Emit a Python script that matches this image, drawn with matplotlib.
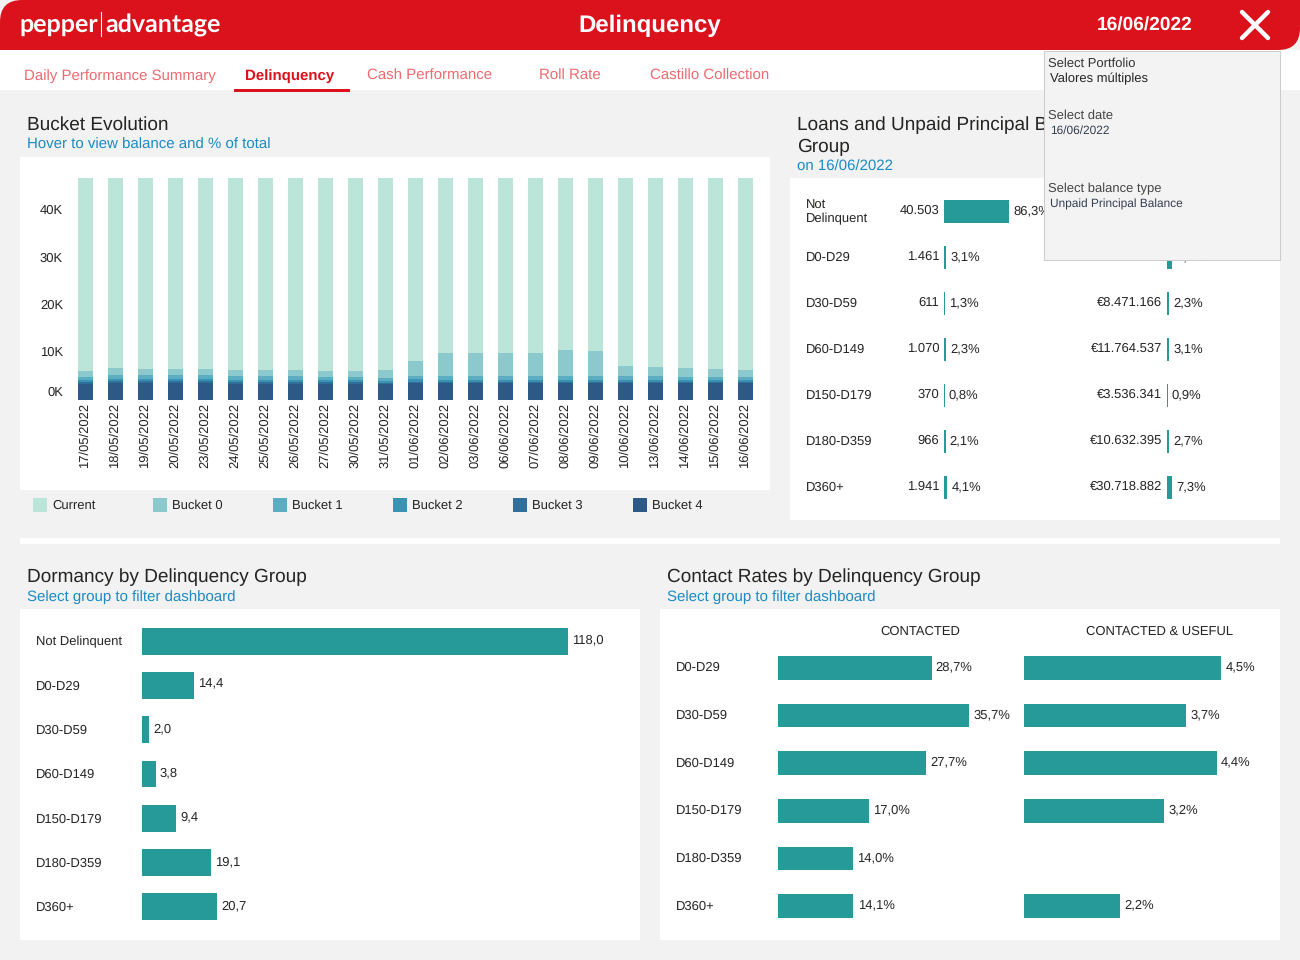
import matplotlib
matplotlib.use('Agg')
import matplotlib.pyplot as plt
from matplotlib.patches import PathPatch, Rectangle
from matplotlib.path import Path

plt.rcParams['font.family'] = ['Liberation Sans', 'DejaVu Sans']
plt.rcParams['text.hinting'] = 'none'

W, H = 1300, 960

dates = ['17/05/2022', '18/05/2022', '19/05/2022', '20/05/2022', '23/05/2022', '24/05/2022',
         '25/05/2022', '26/05/2022', '27/05/2022', '30/05/2022', '31/05/2022', '01/06/2022',
         '02/06/2022', '03/06/2022', '06/06/2022', '07/06/2022', '08/06/2022', '09/06/2022',
         '10/06/2022', '13/06/2022', '14/06/2022', '15/06/2022', '16/06/2022']
bucket4 = [3.4, 3.6, 3.6, 3.6, 3.6, 3.4, 3.4, 3.4, 3.4, 3.4, 3.4, 3.6,
           3.6, 3.6, 3.6, 3.6, 3.6, 3.6, 3.6, 3.6, 3.6, 3.6, 3.6]
bucket3 = [0.4, 0.4, 0.4, 0.4, 0.4, 0.4, 0.4, 0.4, 0.4, 0.4, 0.2, 0.2,
           0.2, 0.2, 0.2, 0.2, 0.2, 0.2, 0.2, 0.2, 0.2, 0.2, 0.2]
bucket2 = [0.4, 0.4, 0.4, 0.4, 0.4, 0.4, 0.4, 0.4, 0.4, 0.4, 0.5, 0.6,
           0.4, 0.4, 0.4, 0.4, 0.4, 0.4, 0.4, 0.4, 0.4, 0.4, 0.4]
bucket1 = [0.6, 0.8, 0.8, 0.8, 0.8, 0.8, 0.8, 0.8, 0.6, 0.6, 0.6, 0.6,
           0.8, 0.8, 0.8, 0.8, 0.8, 0.8, 0.8, 0.8, 0.6, 0.6, 0.6]
bucket0 = [1.3, 1.5, 1.3, 1.3, 1.3, 1.3, 1.3, 1.3, 1.3, 1.3, 1.6, 3.2,
           4.9, 4.9, 4.9, 4.9, 5.6, 5.3, 2.1, 1.9, 1.9, 1.7, 1.5]
current = [40.8, 40.2, 40.4, 40.4, 40.4, 40.6, 40.6, 40.6, 40.8, 40.8, 40.6, 38.7,
           37.0, 37.0, 37.0, 37.0, 36.3, 36.6, 39.8, 40.0, 40.2, 40.4, 40.6]
bucket_names = ['Current', 'Bucket 0', 'Bucket 1', 'Bucket 2', 'Bucket 3', 'Bucket 4']
bucket_colors = ['#bce5da', '#8cc9cd', '#5cadc1', '#3a93b2', '#2f6f9a', '#2c5985']
y_ticks = [10, 20, 30, 40]

loan_groups = ['Not\nDelinquent', 'D0-D29', 'D30-D59', 'D60-D149', 'D150-D179', 'D180-D359', 'D360+']
loan_counts = [40503, 1461, 611, 1070, 370, 966, 1941]
loan_pct = [86.3, 3.1, 1.3, 2.3, 0.8, 2.1, 4.1]
unpaid_values = ['€26.763.021', '€8.471.166', '€11.764.537', '€3.536.341', '€10.632.395', '€30.718.882']
unpaid_pct = [7.2, 2.3, 3.1, 0.9, 2.7, 7.3]

dormancy_groups = ['Not Delinquent', 'D0-D29', 'D30-D59', 'D60-D149', 'D150-D179', 'D180-D359', 'D360+']
dormancy = [118.0, 14.4, 2.0, 3.8, 9.4, 19.1, 20.7]

contact_groups = ['D0-D29', 'D30-D59', 'D60-D149', 'D150-D179', 'D180-D359', 'D360+']
contacted = [28.7, 35.7, 27.7, 17.0, 14.0, 14.1]
useful = [4.5, 3.7, 4.4, 3.2, None, 2.2]

tabs = ['Daily Performance Summary', 'Delinquency', 'Cash Performance', 'Roll Rate', 'Castillo Collection']

TEAL = '#259a98'
RED = '#db111b'
BLUE = '#1a8bc3'
DARK = '#252423'
FS = 9.4
TITLE_FS = 13.7
SUB_FS = 10.8


def es(v, fmt='{:.1f}'):
    return fmt.format(v).replace('.', ',')


def px_axes(x0, y0, x1, y1, zorder=1):
    # axes placed with pixel box, y measured from the top
    ax = fig.add_axes([x0 / W, 1 - y1 / H, (x1 - x0) / W, (y1 - y0) / H], zorder=zorder)
    ax.patch.set_alpha(0)
    return ax


def hbar_panel(x0, x1, y0, y1, values, scale, height):
    # horizontal bars, scale in pixels per unit, y0/y1 are the row band limits
    ax = px_axes(x0, y0, x1, y1)
    rows = [i for i, v in enumerate(values) if v is not None]
    ax.barh(rows, [values[i] for i in rows], height=height, color=TEAL)
    ax.set_xlim(0, (x1 - x0) / scale)
    ax.set_ylim(len(values) - 0.5, -0.5)
    ax.axis('off')
    return ax


def note(ax, s, xy, dx, dy=0, ha='left'):
    ax.annotate(s, xy, xytext=(dx, dy), textcoords='offset points', ha=ha, va='center',
                fontsize=FS, color=DARK, annotation_clip=False)


fig = plt.figure(figsize=(W / 100, H / 100), dpi=100, facecolor='#f2f2f2')

# page background, panels and titles in pixel coordinates
bg = fig.add_axes([0, 0, 1, 1], zorder=0)
bg.set_xlim(0, W)
bg.set_ylim(H, 0)
bg.axis('off')

for x, y, w, h in [(0, 50, W, 40), (20, 157, 750, 333), (790, 178, 490, 342),
                   (20, 538, 1260, 6), (20, 609, 620, 331), (660, 609, 620, 331)]:
    bg.add_patch(Rectangle((x, y), w, h, fc='white', ec='none'))

r = 22
header = Path([(0, 50), (0, r), (0, 0), (r, 0), (W, 0), (W, 50 - r), (W, 50), (W - r, 50), (0, 50)],
              [Path.MOVETO, Path.LINETO, Path.CURVE3, Path.CURVE3, Path.LINETO, Path.LINETO,
               Path.CURVE3, Path.CURVE3, Path.CLOSEPOLY])
bg.add_patch(PathPatch(header, fc=RED, ec='none'))

bg.text(19, 25, 'pepper', color='white', fontsize=18, family='Lato', weight='bold', va='center')
bg.plot([100.5, 100.5], [12, 36], color='white', lw=0.8)
bg.text(105, 25, 'advantage', color='white', fontsize=18, family='Lato', weight='bold', va='center')
bg.text(650, 26, 'Delinquency', color='white', fontsize=17.3, weight='bold', ha='center', va='center')
bg.text(1145, 26, '16/06/2022', color='white', fontsize=13.8, weight='bold', ha='center', va='center')
bg.plot([1242, 1268], [12, 38], color='white', lw=3.2, solid_capstyle='round')
bg.plot([1242, 1268], [38, 12], color='white', lw=3.2, solid_capstyle='round')

for name, x in zip(tabs, [120, 290, 430, 570, 710]):
    active = name == 'Delinquency'
    bg.text(x, 76, name, color=RED if active else '#ee6a70', fontsize=SUB_FS,
            weight='bold' if active else 'normal', ha='center', va='center')
bg.add_patch(Rectangle((234, 89), 116, 3, fc=RED, ec='none'))

bg.text(27, 125, 'Bucket Evolution', color=DARK, fontsize=TITLE_FS, va='center')
bg.text(27, 145, 'Hover to view balance and % of total', color=BLUE, fontsize=SUB_FS, va='center')
bg.text(797, 125, 'Loans and Unpaid Principal Balance by Delinquency', color=DARK, fontsize=TITLE_FS, va='center')
bg.text(797, 147, 'Group', color=DARK, fontsize=TITLE_FS, va='center')
bg.text(797, 167, 'on 16/06/2022', color=BLUE, fontsize=SUB_FS, va='center')
bg.text(27, 577, 'Dormancy by Delinquency Group', color=DARK, fontsize=TITLE_FS, va='center')
bg.text(27, 597, 'Select group to filter dashboard', color=BLUE, fontsize=SUB_FS, va='center')
bg.text(667, 577, 'Contact Rates by Delinquency Group', color=DARK, fontsize=TITLE_FS, va='center')
bg.text(667, 597, 'Select group to filter dashboard', color=BLUE, fontsize=SUB_FS, va='center')

# stacked bucket evolution
ax = px_axes(70, 170, 760, 400)
series = [bucket4, bucket3, bucket2, bucket1, bucket0, current]
bottom = [0] * len(dates)
for vals, color in zip(series, bucket_colors[::-1]):
    ax.bar(range(len(dates)), vals, bottom=bottom, width=0.5, color=color)
    bottom = [b + v for b, v in zip(bottom, vals)]
ax.set_xlim((70 - 85) / 30, (760 - 85) / 30)
ax.set_ylim(0, 48.6)
ax.set_xticks(range(len(dates)))
ax.set_xticklabels(dates, rotation=90, fontsize=FS, color=DARK)
ax.set_yticks(y_ticks)
ax.set_yticklabels([f'{t}K' for t in y_ticks], fontsize=FS, color=DARK, va='center')
ax.tick_params(axis='y', length=0, pad=5)
ax.tick_params(axis='x', length=0, pad=2)
for s in ax.spines.values():
    s.set_visible(False)
ax.annotate('0K', xy=(0, 0), xycoords=('axes fraction', 'data'), xytext=(-5, 1), textcoords='offset points',
            fontsize=FS, color=DARK, ha='right', va='bottom')

for i, (name, color) in enumerate(zip(bucket_names, bucket_colors)):
    x = 33 + 120 * i
    bg.add_patch(Rectangle((x, 498), 14, 14, fc=color, ec='none'))
    bg.text(x + 19, 506, name, color=DARK, fontsize=FS, va='center')

# loans and unpaid table
ax = hbar_panel(944, 1090, 188, 510, loan_pct, 65 / 86.3, 0.5)
for i, (n, p, g) in enumerate(zip(loan_counts, loan_pct, loan_groups)):
    note(ax, f'{n:,}'.replace(',', '.'), (0, i), -3.5, ha='right')
    note(ax, es(p) + '%', (p, i), 3)
    bg.text(806, 188 + 24 + 46 * i, g, ha='left', va='center', fontsize=FS, color=DARK, linespacing=1.15)

ax = hbar_panel(1167, 1270, 234, 510, unpaid_pct, 65 / 86.3, 0.5)
for i, (v, p) in enumerate(zip(unpaid_values, unpaid_pct)):
    note(ax, v, (0, i), -3.5, ha='right')
    note(ax, es(p) + '%', (p, i), 3)

# dormancy
ax = hbar_panel(142, 630, 619, 929, dormancy, 426 / 118.0, 27 / 44.3)
for i, (v, g) in enumerate(zip(dormancy, dormancy_groups)):
    note(ax, es(v), (v, i), 3, 0.7)
    note(ax, g, (0, i), -76.5, -0.7)

# contact rates
ax = hbar_panel(778, 1020, 644, 930, contacted, 191 / 35.7, 0.5)
for i, (v, g) in enumerate(zip(contacted, contact_groups)):
    note(ax, es(v) + '%', (v, i), 3, 0.7)
    note(ax, g, (0, i), -73.5)

ax = hbar_panel(1024, 1275, 644, 930, useful, 43.8, 0.5)
for i, v in enumerate(useful):
    if v is not None:
        note(ax, es(v) + '%', (v, i), 3, 0.7)
bg.text(920, 632, 'CONTACTED', ha='center', va='center', fontsize=FS, color=DARK)
bg.text(1160, 632, 'CONTACTED & USEFUL', ha='center', va='center', fontsize=FS, color=DARK)

# slicer popup sits over everything else
top = fig.add_axes([0, 0, 1, 1], zorder=5)
top.patch.set_alpha(0)
top.set_xlim(0, W)
top.set_ylim(H, 0)
top.axis('off')
top.add_patch(Rectangle((1043.5, 50.5), 236, 209, fc='#f3f3f3', ec='#cccccc', lw=0.75))
top.text(1048, 64, 'Select Portfolio', fontsize=FS, color='#333333', va='center')
top.text(1050, 79, 'Valores múltiples', fontsize=FS, color=DARK, va='center')
top.text(1048, 116, 'Select date', fontsize=FS, color='#444444', va='center')
top.text(1050, 131, '16/06/2022', fontsize=8.6, color='#333e50', va='center')
top.text(1048, 189, 'Select balance type', fontsize=FS, color='#444444', va='center')
top.text(1050, 204, 'Unpaid Principal Balance', fontsize=8.6, color='#333e50', va='center')

fig.savefig('out.png', dpi=100, facecolor=fig.get_facecolor())
